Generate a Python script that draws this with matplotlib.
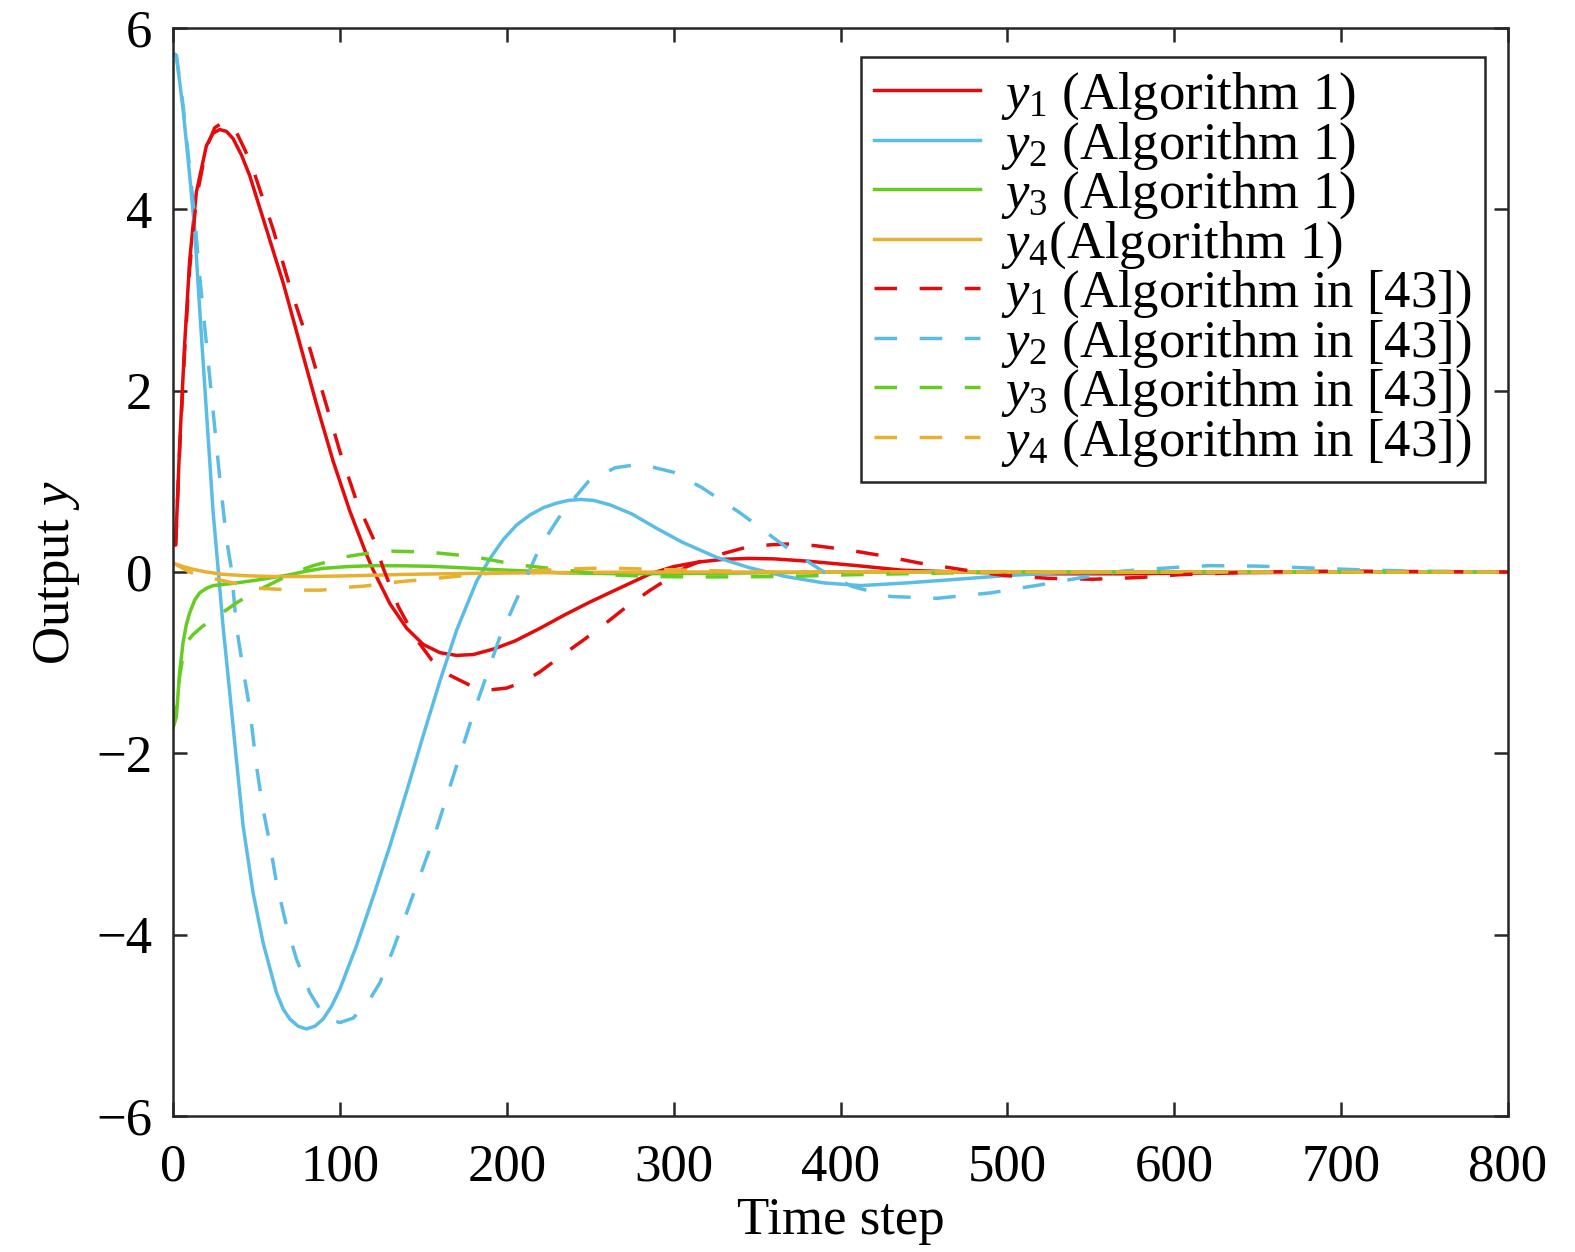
import matplotlib
matplotlib.use('Agg')
import matplotlib.pyplot as plt

plt.rcParams['font.family'] = ['Liberation Serif', 'DejaVu Serif']
plt.rcParams['mathtext.fontset'] = 'custom'
plt.rcParams['mathtext.rm'] = 'Liberation Serif'
plt.rcParams['mathtext.it'] = 'Liberation Serif:italic'

# y1, Algorithm 1
t_y1_a = [0, 1.6, 4, 7, 10, 14, 20, 24, 28, 32, 36, 41, 46, 56, 66, 76, 86, 96, 106, 116, 120, 130, 140, 150,
          160, 170, 180, 192, 205, 220, 235, 250, 265, 286, 300, 315, 330, 345, 360, 380, 410, 437, 470, 520,
          570, 620, 700, 800]
y1_a = [0.30, 0.30, 1.41, 2.52, 3.44, 4.19, 4.7, 4.84, 4.88, 4.86, 4.78, 4.6, 4.37, 3.78, 3.19, 2.52, 1.85,
        1.22, 0.67, 0.19, 0.02, -0.35, -0.62, -0.8, -0.89, -0.92, -0.91, -0.85, -0.76, -0.62, -0.47, -0.33,
        -0.2, -0.02, 0.06, 0.11, 0.14, 0.15, 0.145, 0.12, 0.07, 0.02, 0.0, -0.02, -0.02, -0.01, 0.0, 0.0]
# y2, Algorithm 1
t_y2_a = [0, 2, 6, 10, 13, 16, 20, 24, 27, 30, 34, 38, 42, 48, 54, 62, 66, 70, 75, 80, 85, 90, 95, 100, 110,
          120, 130, 140, 150, 160, 170, 182, 190, 198, 206, 214, 222, 230, 237, 244, 252, 262, 275, 290, 305,
          326, 345, 367, 390, 412, 440, 470, 499, 530, 600, 800]
y2_a = [5.72, 5.70, 5.11, 4.37, 3.78, 2.89, 1.78, 0.67, 0.04, -0.6, -1.33, -2.07, -2.8, -3.54, -4.09, -4.64,
        -4.82, -4.93, -5.01, -5.04, -5.01, -4.93, -4.79, -4.6, -4.12, -3.58, -3.02, -2.42, -1.8, -1.2, -0.64,
        -0.1, 0.15, 0.36, 0.52, 0.63, 0.71, 0.76, 0.79, 0.80, 0.79, 0.74, 0.64, 0.48, 0.33, 0.16, 0.05, -0.05,
        -0.12, -0.15, -0.12, -0.08, -0.04, -0.01, 0.0, 0.0]
# y3, Algorithm 1
t_y3_a = [0, 2, 4, 6, 8, 10, 13, 16, 20, 24, 36, 50, 60, 70, 80, 90, 105, 120, 140, 156, 175, 193, 213, 233,
          270, 320, 400, 800]
y3_a = [-1.72, -1.60, -1.1, -0.78, -0.58, -0.45, -0.31, -0.23, -0.18, -0.15, -0.125, -0.09, -0.06, -0.03,
        0.01, 0.04, 0.06, 0.07, 0.068, 0.062, 0.045, 0.026, 0.01, -0.01, -0.02, -0.015, 0.0, 0.0]
# y4, Algorithm 1
t_y4_a = [0, 2, 6, 12, 20, 30, 45, 60, 80, 100, 120, 140, 180, 220, 260, 300, 800]
y4_a = [0.10, 0.085, 0.06, 0.03, 0.0, -0.026, -0.042, -0.05, -0.05, -0.044, -0.036, -0.026, -0.015, -0.008,
        -0.003, 0.0, 0.0]

# y1, Algorithm in [43]
t_y1_b = [0, 1.6, 4, 7, 10, 14, 20, 25, 30, 34, 38, 43, 48, 60, 70, 80, 90, 100, 110, 120, 126, 135, 145, 155,
          166, 178, 190, 200, 210, 220, 233, 246, 259, 272, 286, 298, 308, 325, 343, 358, 370, 385, 402, 425,
          447, 475, 499, 525, 551, 580, 603, 650, 700, 800]
y1_b = [0.30, 0.30, 1.35, 2.45, 3.35, 4.12, 4.68, 4.9, 4.96, 4.93, 4.85, 4.66, 4.44, 3.78, 3.15, 2.59, 1.96,
        1.33, 0.78, 0.37, 0.04, -0.38, -0.72, -0.97, -1.14, -1.25, -1.30, -1.28, -1.21, -1.1, -0.92, -0.75,
        -0.57, -0.38, -0.2, -0.06, 0.06, 0.18, 0.27, 0.30, 0.31, 0.29, 0.25, 0.18, 0.10, 0.02, -0.04, -0.07,
        -0.08, -0.06, -0.03, 0.0, 0.01, 0.0]
# y2, Algorithm in [43]
t_y2_b = [0, 2, 6, 10, 13, 16, 20, 24, 28, 32, 35, 38, 42, 46, 50, 54, 58, 62, 68, 74, 82, 88, 94, 100, 108,
          118, 124, 132, 140, 148, 156, 164, 180, 196, 212, 220, 233, 249, 265, 280, 300, 317, 340, 367, 390,
          407, 430, 458, 490, 517, 545, 569, 600, 621, 650, 673, 710, 742, 800]
y2_b = [5.72, 5.70, 5.15, 4.45, 3.9, 3.26, 2.52, 1.78, 1.04, 0.37, 0.03, -0.6, -1.07, -1.51, -2.14, -2.62,
        -2.99, -3.43, -3.9, -4.27, -4.64, -4.82, -4.93, -4.97, -4.92, -4.71, -4.53, -4.16, -3.76, -3.35, -2.95,
        -2.48, -1.56, -0.71, -0.05, 0.28, 0.65, 1.0, 1.15, 1.19, 1.1, 0.93, 0.65, 0.28, 0.0, -0.16, -0.27,
        -0.29, -0.23, -0.15, -0.06, 0.01, 0.05, 0.07, 0.065, 0.05, 0.025, 0.01, 0.0]
# y3, Algorithm in [43]
t_y3_b = [0, 2, 4, 6, 8, 12, 17, 22, 28, 38, 50, 60, 72, 84, 92, 104, 118, 131, 153, 180, 206, 233, 259, 290,
          313, 367, 407, 450, 500, 800]
y3_b = [-1.72, -1.5, -1.15, -0.92, -0.78, -0.69, -0.61, -0.54, -0.47, -0.34, -0.21, -0.12, -0.01, 0.07, 0.11,
        0.17, 0.21, 0.23, 0.22, 0.17, 0.08, 0.026, -0.03, -0.05, -0.055, -0.05, -0.03, -0.015, 0.0, 0.0]
# y4, Algorithm in [43]
t_y4_b = [0, 5, 10, 18, 26, 37, 51, 63, 77, 89, 103, 115, 129, 140, 152, 166, 180, 193, 213, 233, 259, 286,
          320, 360, 800]
y4_b = [0.10, 0.05, 0.0, -0.05, -0.08, -0.125, -0.18, -0.19, -0.2, -0.2, -0.17, -0.155, -0.12, -0.1, -0.08,
        -0.055, -0.03, -0.01, 0.01, 0.03, 0.045, 0.03, 0.015, 0.0, 0.0]

red = '#E30B0B'
blue = '#5BBDE6'
green = '#66CC22'
orange = '#E8B030'
lw = 2.5
dash = (0, (6.5, 6.5))

f = plt.figure(figsize=(15.75, 12.52), dpi=100)
ax = f.add_axes([173 / 1575, 1 - 1116 / 1252, (1508 - 173) / 1575, (1116 - 28) / 1252])

ax.plot(t_y1_a, y1_a, color=red, lw=lw, label='$y_1$ (Algorithm 1)')
ax.plot(t_y2_a, y2_a, color=blue, lw=lw, label='$y_2$ (Algorithm 1)')
ax.plot(t_y3_a, y3_a, color=green, lw=lw, label='$y_3$ (Algorithm 1)')
ax.plot(t_y4_a, y4_a, color=orange, lw=lw, label='$y_4$(Algorithm 1)')
ax.plot(t_y1_b, y1_b, color=red, lw=lw, ls=dash, label='$y_1$ (Algorithm in [43])')
ax.plot(t_y2_b, y2_b, color=blue, lw=lw, ls=dash, label='$y_2$ (Algorithm in [43])')
ax.plot(t_y3_b, y3_b, color=green, lw=lw, ls=dash, label='$y_3$ (Algorithm in [43])')
ax.plot(t_y4_b, y4_b, color=orange, lw=lw, ls=dash, label='$y_4$ (Algorithm in [43])')

ax.set_xlim(0, 800)
ax.set_ylim(-6, 6)
ax.set_xticks(range(0, 801, 100))
ax.set_yticks(range(-6, 7, 2))
ax.tick_params(direction='in', length=10, width=1.8, labelsize=38, top=True, right=True,
               color='#262626')
ax.tick_params(axis='x', pad=20)
ax.tick_params(axis='y', pad=15)
for s in ax.spines.values():
    s.set_linewidth(1.8)
    s.set_color('#262626')

ax.set_xlabel('Time step', fontsize=38, labelpad=4)
ax.set_ylabel('Output $y$', fontsize=38, labelpad=10)

leg = ax.legend(loc='upper right', fontsize=38, handlelength=2.0, handletextpad=0.4,
                labelspacing=-0.04, borderpad=0.25, fancybox=False, framealpha=1,
                edgecolor='#262626', bbox_to_anchor=(0.9825, 0.973), borderaxespad=0)
leg.get_frame().set_linewidth(1.8)

f.savefig('out.png', dpi=100)
